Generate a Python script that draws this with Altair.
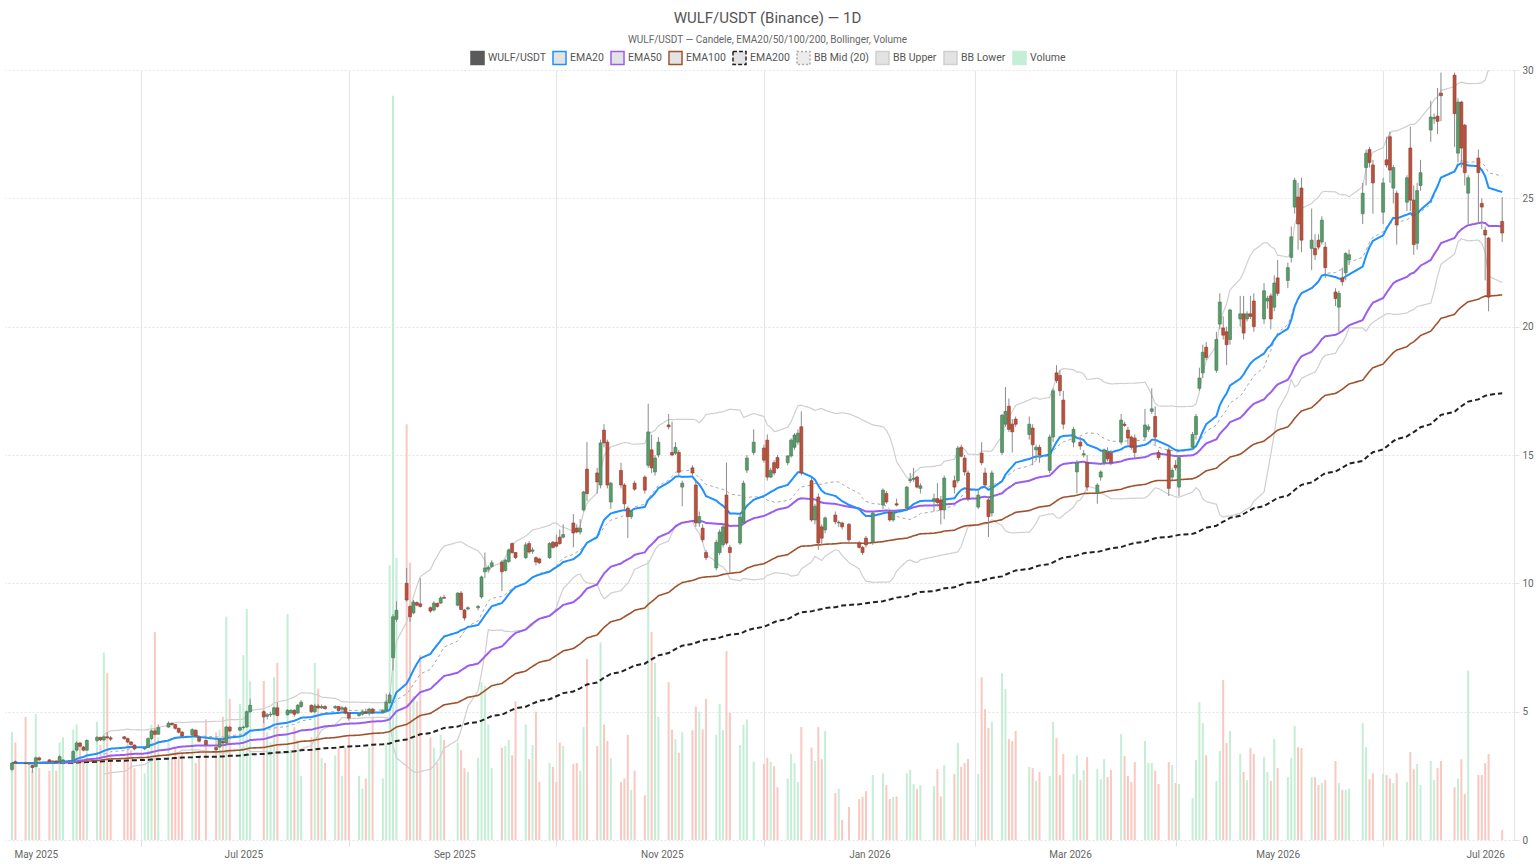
import altair as alt
import pandas as pd

TITLE = "WULF/USDT (Binance) — 1D"
SUBTITLE = "WULF/USDT — Candele, EMA20/50/100/200, Bollinger, Volume"

# Exchange holidays (no session on these weekdays)
market_holidays = [
    "2025-05-26", "2025-06-19", "2025-07-04", "2025-09-01", "2025-11-27",
    "2025-12-25", "2026-01-01", "2026-01-19", "2026-02-16", "2026-04-03",
    "2026-05-25", "2026-06-19", "2026-07-03",
]

# Daily OHLC (USDT), one row per trading week
opens = [
    2.75, 3.05,
    3.00, 2.97, 2.90, 2.86, 3.20,
    3.12, 3.05, 3.08, 3.05, 3.08,
    3.10, 3.50, 3.78, 3.62, 3.50,
    3.88, 4.00, 3.90, 4.02, 3.98,
    4.02, 3.95, 3.82, 3.70,
    3.55, 3.60, 3.95, 4.25, 4.12,
    4.40, 4.55, 4.50, 4.35, 4.20,
    4.10, 4.28, 4.00, 3.88,
    3.60, 3.62, 3.85, 3.78, 4.40,
    4.28, 4.38, 4.40, 5.00,
    5.00, 4.82, 4.88, 4.90, 5.15,
    4.88, 4.95, 5.05, 4.95, 5.20,
    5.25, 5.00, 5.22, 5.15, 5.20,
    5.15, 5.20, 5.10, 5.15, 4.95,
    4.85, 4.90, 5.00, 4.95, 5.10,
    4.98, 5.05, 5.35, 7.10, 8.60,
    10.00, 9.10, 8.85, 9.25, 9.20,
    9.05, 8.96, 9.22, 9.23, 9.45,
    9.15, 9.62, 8.96, 9.00,
    9.05, 9.47, 10.45, 10.55, 10.65,
    10.83, 10.50, 10.85, 11.55, 11.20,
    11.00, 11.55, 11.25, 11.00, 10.95,
    11.00, 11.60, 11.60, 11.80, 11.80,
    12.35, 12.15, 12.00, 12.86, 14.45,
    14.30, 13.83, 15.97, 15.50, 13.17,
    14.40, 13.83, 12.93, 12.60, 13.90,
    14.14, 14.60, 15.20, 14.34, 15.00,
    16.17, 15.10, 15.07, 15.10, 13.75,
    14.50, 13.83, 12.35, 12.15, 11.20,
    10.60, 11.20, 11.50, 13.44, 11.40,
    11.57, 12.35, 14.41, 15.10,
    15.27, 15.58, 14.14, 14.70, 14.90,
    14.70, 14.96, 15.30, 15.50, 16.10,
    14.00, 12.47, 13.36, 12.20, 12.08,
    12.66, 12.35, 12.35, 12.30,
    11.57, 11.40, 11.76, 11.60,
    13.05, 13.50, 12.78, 12.47, 13.10,
    12.93, 14.00, 14.05, 14.14, 13.70,
    13.20, 13.30, 13.25, 12.86,
    14.00, 14.00, 15.30, 14.88, 14.30,
    12.97, 15.07, 14.30, 13.25, 12.74,
    15.10, 16.20, 16.90, 16.20, 16.40,
    15.80, 16.05, 15.20, 15.30,
    14.40, 15.70, 18.20, 18.10, 17.14,
    15.50, 14.34, 15.50, 15.00, 14.70,
    13.50, 14.14, 14.70, 15.10, 15.07,
    15.50, 16.20, 15.97, 15.70, 15.66,
    15.70, 16.00, 16.70, 16.50, 15.10,
    15.20, 14.14, 14.60, 13.75,
    15.30, 15.80, 17.60, 18.20, 19.20,
    18.30, 20.10, 19.95, 19.80, 19.50,
    20.30, 20.50, 20.30, 20.50, 21.00,
    20.30, 21.00, 21.20, 20.76, 21.90,
    21.80, 22.70, 24.66, 25.05, 25.40,
    23.05, 23.05, 23.37, 23.30, 23.10,
    21.35, 20.76, 21.90, 22.10, 22.60,
    24.40, 26.20, 26.90, 26.30,
    24.46, 26.50, 27.40, 25.40, 25.20,
    24.85, 26.96, 24.93, 23.25, 25.50,
    27.66, 28.10, 28.20, 29.10,
    29.80, 26.76, 28.75, 27.85, 25.20,
    26.57, 24.80, 23.76, 23.45,
    24.10,
]

highs = [
    3.02, 3.10,
    3.05, 3.02, 2.92, 3.25, 3.25,
    3.15, 3.10, 3.10, 3.30, 3.15,
    3.50, 3.85, 3.82, 3.66, 3.92,
    4.05, 4.02, 4.08, 4.20, 4.05,
    4.05, 3.97, 3.85, 3.72,
    3.62, 4.00, 4.30, 4.35, 4.50,
    4.62, 4.58, 4.52, 4.38, 4.25,
    4.35, 4.30, 4.02, 3.90,
    3.62, 3.95, 3.88, 4.45, 4.42,
    4.42, 4.45, 5.05, 5.50,
    5.05, 4.95, 5.00, 5.20, 5.35,
    5.10, 5.10, 5.10, 5.30, 5.45,
    5.28, 5.30, 5.30, 5.28, 5.25,
    5.25, 5.22, 5.22, 5.20, 4.98,
    4.95, 5.05, 5.12, 5.15, 5.15,
    5.10, 5.70, 5.75, 8.80, 9.30,
    10.60, 9.15, 9.35, 9.30, 10.20,
    9.10, 9.30, 9.25, 9.50, 9.55,
    9.65, 9.70, 9.00, 9.10,
    9.15, 10.30, 11.20, 10.70, 10.90,
    10.90, 10.95, 11.35, 11.60, 11.22,
    11.60, 11.65, 11.40, 11.05, 11.00,
    11.60, 11.65, 11.90, 12.10, 12.30,
    12.70, 12.30, 12.50, 13.60, 15.50,
    14.50, 15.60, 16.20, 15.60, 13.95,
    14.70, 13.90, 13.00, 12.85, 14.00,
    14.20, 17.00, 15.80, 15.00, 15.70,
    16.60, 16.30, 15.50, 15.20, 14.00,
    14.60, 14.00, 12.80, 12.30, 11.30,
    11.70, 12.10, 12.30, 14.70, 11.50,
    12.70, 14.00, 15.00, 16.00,
    15.40, 15.80, 14.50, 14.80, 15.00,
    15.00, 15.65, 15.85, 16.00, 16.70,
    14.10, 13.10, 13.50, 12.30, 12.60,
    12.80, 12.45, 12.40, 12.35,
    11.65, 11.45, 11.85, 12.80,
    13.70, 13.60, 12.85, 12.80, 13.30,
    13.80, 14.30, 14.50, 14.20, 13.90,
    13.50, 13.90, 13.40, 14.20,
    14.20, 15.35, 15.40, 15.00, 14.40,
    13.60, 15.50, 14.50, 13.40, 14.40,
    16.60, 17.65, 17.20, 16.40, 16.50,
    16.50, 16.20, 15.40, 15.40,
    15.80, 17.60, 18.50, 18.30, 17.50,
    16.10, 14.80, 15.70, 15.20, 15.00,
    13.90, 14.40, 15.25, 15.30, 15.20,
    16.60, 16.30, 16.10, 15.75, 15.80,
    16.80, 16.20, 17.60, 16.90, 15.20,
    15.30, 14.50, 14.80, 15.00,
    15.90, 16.60, 18.40, 19.30, 19.40,
    19.80, 21.30, 20.40, 20.00, 20.70,
    21.20, 21.20, 20.60, 21.20, 21.30,
    21.70, 21.20, 21.30, 22.00, 22.60,
    22.50, 23.90, 25.80, 25.60, 25.80,
    24.60, 23.60, 23.60, 24.30, 23.30,
    21.50, 21.40, 22.30, 22.90, 23.00,
    25.60, 26.90, 27.00, 26.50,
    25.80, 27.40, 27.60, 26.30, 25.30,
    25.90, 27.80, 25.50, 25.60, 26.50,
    28.80, 28.30, 29.30, 29.90,
    29.90, 28.90, 28.80, 27.90, 25.90,
    26.90, 25.00, 23.90, 23.50,
    25.05,
]

lows = [
    2.68, 2.97,
    2.95, 2.92, 2.62, 2.84, 3.08,
    3.02, 3.00, 2.98, 3.03, 2.95,
    3.05, 3.45, 3.60, 3.45, 3.48,
    3.82, 3.85, 3.85, 3.95, 3.85,
    3.90, 3.78, 3.68, 3.50,
    3.50, 3.58, 3.90, 4.08, 4.10,
    4.38, 4.45, 4.30, 4.15, 4.00,
    4.05, 4.00, 3.80, 3.68,
    3.45, 3.60, 3.72, 3.75, 4.20,
    4.25, 4.30, 4.38, 4.95,
    4.55, 4.70, 4.80, 4.85, 4.82,
    4.85, 4.92, 4.80, 4.90, 5.15,
    4.95, 4.95, 5.10, 5.10, 5.08,
    5.10, 5.00, 5.00, 4.90, 4.65,
    4.80, 4.85, 4.90, 4.85, 4.90,
    4.92, 5.00, 5.30, 6.60, 8.50,
    9.30, 8.50, 8.80, 9.10, 9.05,
    8.85, 8.90, 9.05, 9.20, 9.40,
    9.10, 8.95, 8.55, 8.95,
    8.95, 9.40, 10.20, 10.45, 10.60,
    9.70, 10.45, 10.80, 11.15, 10.95,
    10.95, 11.15, 11.15, 10.70, 10.75,
    10.95, 11.35, 11.40, 11.50, 11.75,
    11.40, 11.95, 11.90, 12.80, 13.20,
    13.50, 13.70, 15.30, 13.70, 12.90,
    13.70, 12.90, 11.76, 12.50, 13.60,
    13.50, 14.50, 14.30, 14.20, 14.90,
    16.00, 14.95, 15.00, 14.20, 13.00,
    14.20, 12.20, 12.20, 11.60, 10.90,
    10.50, 11.10, 11.40, 11.50, 10.40,
    11.50, 12.30, 14.30, 15.00,
    14.70, 14.00, 14.10, 14.20, 14.45,
    14.60, 14.90, 15.20, 15.40, 14.20,
    12.40, 12.30, 11.30, 11.50, 11.95,
    12.30, 12.20, 12.10, 11.60,
    11.35, 11.10, 11.40, 11.50,
    12.90, 13.10, 12.40, 12.40, 13.00,
    12.85, 13.90, 13.95, 13.70, 13.50,
    12.80, 13.00, 12.30, 12.50,
    13.50, 13.90, 14.90, 14.20, 13.20,
    12.90, 14.60, 13.70, 11.80, 12.60,
    15.00, 16.10, 15.90, 15.10, 16.10,
    15.60, 14.60, 14.80, 14.70,
    14.30, 15.50, 17.80, 17.30, 16.00,
    15.30, 13.50, 15.20, 14.90, 13.60,
    13.10, 14.00, 14.60, 14.75, 14.60,
    15.40, 16.10, 15.40, 15.20, 14.90,
    15.60, 15.90, 16.60, 15.40, 14.80,
    13.40, 14.00, 14.40, 13.40,
    15.20, 15.60, 17.50, 18.00, 18.70,
    18.20, 19.90, 19.50, 18.50, 19.30,
    20.00, 19.50, 20.20, 20.30, 19.80,
    20.10, 20.70, 19.90, 20.60, 21.20,
    21.50, 22.50, 24.40, 23.00, 22.90,
    22.20, 22.60, 23.00, 23.20, 21.90,
    20.80, 19.80, 21.60, 21.80, 22.40,
    24.00, 25.50, 26.20, 24.40,
    24.00, 26.20, 25.60, 24.80, 23.20,
    24.50, 24.50, 22.80, 23.00, 25.30,
    27.20, 27.90, 27.50, 28.00,
    27.00, 26.40, 26.20, 25.50, 24.00,
    24.00, 23.80, 21.80, 20.60,
    23.30,
]

closes = [
    3.00, 3.00,
    2.98, 3.00, 2.82, 3.20, 3.12,
    3.05, 3.08, 3.03, 3.25, 3.12,
    3.45, 3.78, 3.65, 3.50, 3.88,
    4.00, 3.90, 4.02, 3.98, 3.93,
    3.95, 3.82, 3.72, 3.55,
    3.58, 3.95, 4.25, 4.12, 4.38,
    4.55, 4.50, 4.35, 4.20, 4.05,
    4.30, 4.05, 3.85, 3.72,
    3.52, 3.90, 3.78, 4.40, 4.25,
    4.38, 4.40, 5.00, 5.25,
    4.80, 4.88, 4.90, 5.15, 4.85,
    5.05, 5.05, 4.90, 5.25, 5.37,
    5.00, 5.22, 5.15, 5.20, 5.12,
    5.20, 5.05, 5.15, 4.95, 4.75,
    4.90, 5.00, 4.95, 5.10, 4.95,
    5.05, 5.37, 5.65, 8.70, 8.95,
    9.35, 8.70, 9.27, 9.15, 9.10,
    8.92, 9.23, 9.10, 9.43, 9.42,
    9.62, 8.98, 8.65, 9.05,
    9.10, 10.25, 10.60, 10.62, 10.80,
    10.45, 10.90, 11.30, 11.20, 11.00,
    11.50, 11.22, 11.30, 10.83, 10.80,
    11.55, 11.40, 11.45, 11.55, 11.90,
    11.96, 12.00, 12.15, 13.56, 13.50,
    13.95, 15.47, 15.47, 13.83, 13.90,
    13.83, 13.10, 12.60, 12.80, 13.67,
    13.63, 15.90, 14.50, 14.88, 15.50,
    16.10, 15.00, 15.30, 14.33, 13.90,
    14.30, 12.35, 12.60, 11.70, 11.00,
    11.60, 12.00, 12.20, 11.57, 11.20,
    12.58, 13.90, 14.88, 15.50,
    14.80, 14.14, 14.40, 14.30, 14.50,
    14.96, 15.58, 15.78, 15.85, 14.30,
    12.47, 13.00, 11.57, 11.76, 12.55,
    12.40, 12.38, 12.20, 11.70,
    11.40, 11.20, 11.50, 12.74,
    13.63, 13.17, 12.47, 12.78, 13.05,
    13.75, 14.05, 14.10, 13.75, 13.80,
    13.30, 13.15, 12.86, 14.10,
    13.75, 15.27, 14.95, 14.34, 13.30,
    13.44, 14.70, 13.83, 12.60, 14.30,
    16.55, 16.70, 16.00, 15.90, 16.20,
    16.20, 15.40, 15.30, 15.00,
    15.70, 17.50, 17.90, 17.50, 16.20,
    16.00, 14.70, 15.35, 15.05, 13.75,
    13.83, 14.34, 15.20, 14.85, 14.70,
    16.36, 16.15, 15.66, 15.30, 15.10,
    16.17, 16.10, 16.80, 15.70, 14.90,
    13.70, 14.40, 14.50, 14.90,
    15.80, 16.50, 18.00, 19.00, 18.80,
    19.50, 20.96, 19.67, 19.30, 20.65,
    20.50, 19.75, 20.50, 20.40, 20.00,
    21.40, 21.10, 20.30, 21.70, 21.30,
    22.30, 23.50, 25.70, 24.00, 23.37,
    23.37, 22.80, 23.10, 24.15, 22.30,
    21.10, 21.30, 21.75, 22.85, 22.80,
    25.20, 26.76, 26.40, 25.60,
    25.60, 26.30, 26.10, 26.20, 23.96,
    25.80, 24.93, 23.20, 25.30, 26.00,
    28.17, 28.15, 28.00, 29.00,
    28.30, 28.75, 26.96, 26.00, 25.80,
    26.00, 24.66, 23.57, 21.15,
    23.65,
]

# Daily traded volume (millions of tokens)
volumes = [
    4.2, 3.8,
    4.8, 3.0, 2.7, 4.9, 2.8,
    2.7, 3.0, 2.7, 3.8, 4.0,
    4.3, 4.5, 3.6, 3.0, 3.9,
    4.6, 3.7, 7.3, 6.5, 3.3,
    3.2, 4.0, 3.5, 2.8,
    2.6, 3.5, 4.5, 8.1, 4.0,
    3.8, 3.2, 3.6, 3.3, 3.4,
    4.0, 3.0, 3.3, 4.7,
    4.2, 4.3, 4.8, 8.7, 5.5,
    5.3, 7.2, 9.0, 6.2,
    6.2, 4.2, 3.8, 6.35, 6.9,
    8.8, 3.5, 4.4, 3.9, 2.5,
    4.0, 6.9, 5.9, 3.2, 3.0,
    3.3, 3.6, 2.5, 3.6, 4.0,
    2.5, 2.0, 2.4, 3.6, 4.8,
    2.4, 3.8, 10.7, 29.0, 11.0,
    16.2, 10.8, 5.6, 5.4, 7.2,
    4.0, 3.6, 3.0, 4.1, 3.9,
    3.8, 3.5, 2.8, 2.65,
    3.2, 6.15, 6.0, 4.5, 2.8,
    3.6, 3.66, 3.9, 3.3, 5.4,
    4.5, 3.15, 3.7, 5.0, 2.26,
    3.0, 2.85, 2.26, 3.8, 3.66,
    2.96, 3.0, 2.7, 4.4, 7.05,
    3.66, 7.7, 4.5, 3.86, 3.2,
    2.26, 2.4, 4.1, 1.95, 2.7,
    1.75, 10.9, 8.1, 6.9, 4.8,
    6.15, 4.3, 3.93, 3.4, 4.2,
    4.28, 5.2, 5.0, 4.3, 5.5,
    4.1, 5.3, 4.28, 7.36, 4.95,
    3.7, 4.5, 4.7, 3.05,
    2.96, 3.2, 3.05, 2.88, 2.06,
    2.4, 3.35, 3.0, 2.26, 4.4,
    3.6, 3.08, 4.4, 3.15, 4.25,
    1.83, 2.0, 0.78, 1.29,
    1.6, 1.68, 1.9, 2.53,
    2.6, 2.14, 1.6, 1.68, 1.7,
    2.6, 2.73, 2.18, 1.98, 2.14,
    2.1, 2.76, 1.7, 2.92,
    2.57, 3.78, 2.85, 3.0, 3.15,
    2.57, 6.35, 5.1, 4.36, 4.6,
    6.5, 5.88, 3.93, 3.86, 4.25,
    2.85, 2.8, 2.3, 2.65,
    2.5, 4.6, 3.97, 2.53, 3.35,
    2.57, 3.3, 2.33, 2.73, 3.23,
    2.76, 2.37, 3.15, 2.45, 2.73,
    4.13, 3.27, 2.5, 2.26, 3.04,
    3.86, 3.0, 3.0, 2.7, 2.18,
    3.04, 2.92, 2.22, 2.18,
    1.64, 3.12, 5.38, 4.56, 3.3,
    2.3, 3.47, 6.23, 3.78, 4.25,
    3.35, 2.65, 2.33, 3.58, 3.35,
    3.23, 2.65, 2.3, 3.93, 2.8,
    2.45, 3.2, 4.44, 3.62, 3.58,
    2.45, 2.45, 2.14, 2.22, 2.33,
    3.08, 2.22, 1.95, 1.95, 2.0,
    4.56, 3.62, 2.37, 2.6,
    2.57, 2.53, 2.4, 2.22, 2.6,
    2.26, 3.43, 2.76, 2.96, 2.14,
    3.08, 2.33, 2.8, 3.08,
    2.06, 2.4, 3.15, 1.8, 6.6,
    2.53, 2.53, 3.0, 3.35,
    0.39,
]

# Legend entries and their styles
series_names = ["WULF/USDT", "EMA20", "EMA50", "EMA100", "EMA200",
                "BB Mid (20)", "BB Upper", "BB Lower", "Volume"]
stroke_colors = ["#5a5a5a", "#1e90ff", "#9b5cf0", "#a0522d", "#222222",
                 "#a8a8a8", "#cfcfcf", "#cfcfcf", "#c4eed5"]
fill_colors = ["#5a5a5a", "#e3e3e3", "#e3e3e3", "#e3e3e3", "#e3e3e3",
               "#ececec", "#e3e3e3", "#e3e3e3", "#c4eed5"]
dash_styles = [[1, 0], [1, 0], [1, 0], [1, 0], [4, 2],
               [2, 2], [1, 0], [1, 0], [1, 0]]

UP_FILL, UP_EDGE = "#5b9a6b", "#3f7a52"
DOWN_FILL, DOWN_EDGE = "#b8533f", "#8e3a2a"
WICK = "#8c8c8c"
VOL_UP, VOL_DOWN = "#c4eed5", "#f9c8c1"

# ---------------------------------------------------------------- data
dates = pd.bdate_range("2025-04-24", "2026-07-06", freq="C", holidays=market_holidays)
n = len(closes)
df = pd.DataFrame({
    "date": dates[:n].strftime("%Y-%m-%d"),
    "open": opens, "high": highs, "low": lows, "close": closes,
    "volume": volumes,
})

close = df["close"]
ind = pd.DataFrame({"date": df["date"]})
for span in (20, 50, 100, 200):
    ind[f"EMA{span}"] = close.ewm(span=span, adjust=False).mean()
mid = close.rolling(20).mean()
sd = close.rolling(20).std(ddof=0)
ind["BB Mid (20)"] = mid
ind["BB Upper"] = mid + 2 * sd
ind["BB Lower"] = mid - 2 * sd
long = ind.melt("date", var_name="series", value_name="value").dropna()


def ms(s):
    return int(pd.Timestamp(s, tz="UTC").value // 10**6)


month_ticks = [ms(d) for d in pd.date_range("2025-05-01", "2026-07-01", freq="MS")]
x_scale = alt.Scale(type="utc", domain=[ms("2025-04-23T10:00"), ms("2026-07-08T00:00")])
price_scale = alt.Scale(domain=[0, 30], nice=False, zero=False)

# gridlines/ticks on even months, labels on odd months
even_month = "utcmonth(datum.value) % 2 == 1"
x_axis = alt.Axis(
    values=month_ticks,
    labelExpr="utcmonth(datum.value) % 2 == 0 ? utcFormat(datum.value, '%b %Y') : ''",
    grid=True, gridColor="#e6e6e6", gridWidth=1,
    gridOpacity={"condition": {"test": even_month, "value": 1}, "value": 0},
    tickOpacity={"condition": {"test": even_month, "value": 1}, "value": 0},
    tickColor="#e0e0e0", tickSize=6, domain=False,
    labelColor="#666666", labelFontSize=10, labelPadding=3,
    labelFlush=False, labelOverlap=False, title=None,
)
y_axis = alt.Axis(
    orient="right", values=[0, 5, 10, 15, 20, 25, 30], title=None,
    grid=True, gridColor="#e4e4e4", gridDash=[2, 2],
    domainColor="#e6e6e6", tickColor="#e6e6e6", tickSize=5,
    labelColor="#666666", labelFontSize=10, labelPadding=3,
)

# every layer carries the same x axis definition so the shared axis merges cleanly
x_enc = alt.X("date:T", scale=x_scale, axis=x_axis, title=None)
stroke_scale = alt.Scale(domain=series_names, range=stroke_colors)
fill_scale = alt.Scale(domain=series_names, range=fill_colors)
dash_scale = alt.Scale(domain=series_names, range=dash_styles)

legend = alt.Legend(
    title=None, orient="none", legendX=465, legendY=-20,
    direction="horizontal", columns=9, symbolType="square",
    symbolSize=170, symbolStrokeWidth=1.5, symbolOpacity=1,
    labelFontSize=10.5, labelColor="#555555", labelOffset=3,
    columnPadding=3,
)

up = "datum.close >= datum.open"

# volume histogram on its own (hidden) scale
volume_bars = alt.Chart(df).mark_bar(size=2).encode(
    x=x_enc,
    y=alt.Y("volume:Q", scale=alt.Scale(domain=[0, 30], nice=False), axis=None),
    color=alt.condition(up, alt.value(VOL_UP), alt.value(VOL_DOWN)),
)

line_styles = [
    ("BB Lower", 1.2, [1, 0]),
    ("BB Upper", 1.2, [1, 0]),
    ("BB Mid (20)", 1.0, [3, 3]),
    ("EMA200", 2.0, [5, 3]),
    ("EMA100", 1.6, [1, 0]),
    ("EMA50", 2.0, [1, 0]),
    ("EMA20", 2.0, [1, 0]),
]
line_layers = [
    alt.Chart(long[long["series"] == name]).mark_line(
        strokeWidth=w, strokeDash=d, clip=True
    ).encode(
        x=x_enc,
        y=alt.Y("value:Q", scale=price_scale, axis=None),
        stroke=alt.Stroke("series:N", scale=stroke_scale, legend=legend),
    )
    for name, w, d in line_styles
]

wicks = alt.Chart(df).mark_rule(strokeWidth=1, color=WICK).encode(
    x=x_enc,
    y=alt.Y("low:Q", scale=price_scale, axis=None),
    y2="high:Q",
)
bodies = alt.Chart(df).mark_bar(size=3, strokeWidth=0.6).encode(
    x=x_enc,
    y=alt.Y("open:Q", scale=price_scale, axis=y_axis),
    y2="close:Q",
    fill=alt.condition(up, alt.value(UP_FILL), alt.value(DOWN_FILL)),
    stroke=alt.condition(up, alt.value(UP_EDGE), alt.value(DOWN_EDGE)),
)

legend_keys = alt.Chart(pd.DataFrame({"series": series_names})).mark_point(
    shape="square", filled=True, opacity=0
).encode(
    x=alt.value(0), y=alt.value(0),
    fill=alt.Fill("series:N", scale=fill_scale, legend=legend),
    stroke=alt.Stroke("series:N", scale=stroke_scale, legend=legend),
    strokeDash=alt.StrokeDash("series:N", scale=dash_scale, legend=legend),
)

chart = alt.layer(
    volume_bars, *line_layers, wicks, bodies, legend_keys
).resolve_scale(
    y="independent"
).properties(
    width=1509, height=770,
    padding={"left": 5, "top": 70, "right": 22, "bottom": 24},
    autosize=alt.AutoSizeParams(type="none"),
    title=alt.TitleParams(
        text=TITLE, subtitle=SUBTITLE, anchor="middle",
        fontSize=15, fontWeight="normal", color="#555555",
        subtitleFontSize=10, subtitleColor="#666666", subtitlePadding=9,
        offset=5, dx=8,
    ),
).configure(
    font="Roboto"
).configure_view(
    stroke=None
)

chart.save("out.html", embed_options={"renderer": "svg", "actions": False})
